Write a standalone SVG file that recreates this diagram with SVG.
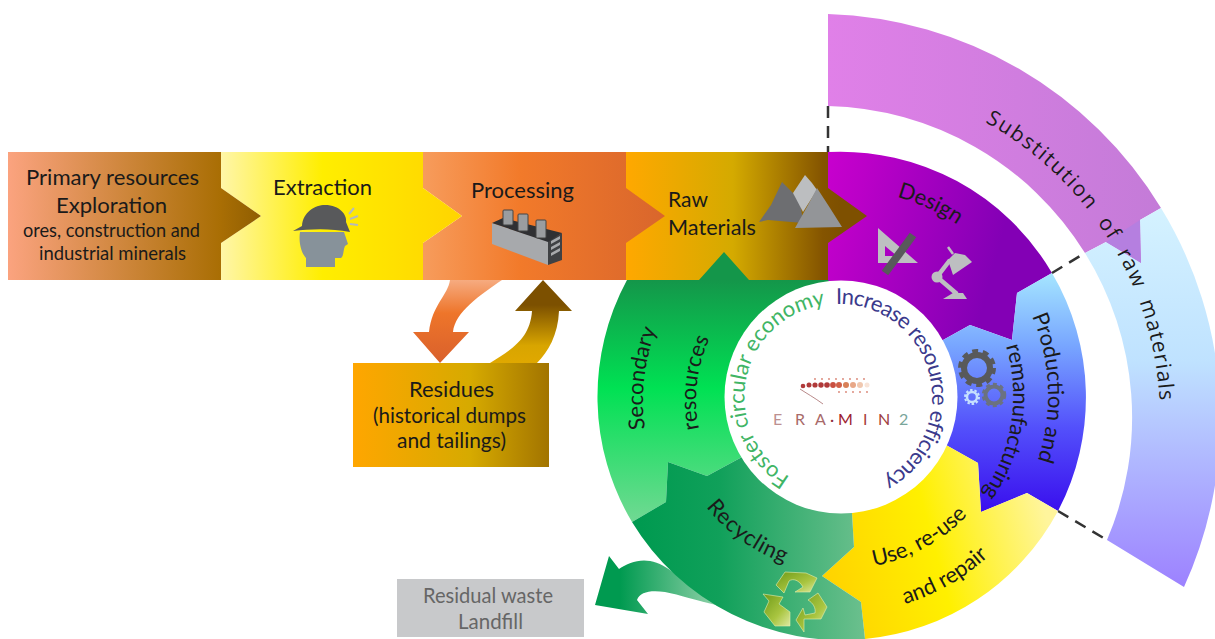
<svg xmlns="http://www.w3.org/2000/svg" width="1215" height="639" viewBox="0 0 1215 639">
<style>
text{font-family:Lato,"Noto Sans","Liberation Sans",sans-serif;fill:#1a1a1a}
.b{font-size:22px}.m{font-size:19px}.c{font-size:22px}
.s{font-family:"Open Sans","Noto Sans",sans-serif;font-size:21px}
.dash{fill:none;stroke:#333;stroke-width:2.500;stroke-dasharray:12 8}
.ic{fill:#bdbfc1}.dk{fill:#58595b}
.lg{font-size:16px}
</style>
<defs>
<linearGradient id="gP" gradientUnits="userSpaceOnUse" x1="8" y1="0" x2="261" y2="0"><stop offset="0" stop-color="#fba37f"/><stop offset=".84" stop-color="#a96e04"/><stop offset="1" stop-color="#8f5e02"/></linearGradient>
<linearGradient id="gE" gradientUnits="userSpaceOnUse" x1="221" y1="0" x2="462" y2="0"><stop offset="0" stop-color="#fff6a8"/><stop offset=".42" stop-color="#ffee00"/><stop offset="1" stop-color="#ffd400"/></linearGradient>
<linearGradient id="gR" gradientUnits="userSpaceOnUse" x1="423" y1="0" x2="665" y2="0"><stop offset="0" stop-color="#f79c5c"/><stop offset=".4" stop-color="#f27a2a"/><stop offset="1" stop-color="#d9662c"/></linearGradient>
<linearGradient id="gM" gradientUnits="userSpaceOnUse" x1="626" y1="0" x2="840" y2="0"><stop offset="0" stop-color="#ffa800"/><stop offset=".5" stop-color="#d4aa00"/><stop offset=".92" stop-color="#845400"/><stop offset="1" stop-color="#7e5000"/></linearGradient>
<linearGradient id="gD" gradientUnits="userSpaceOnUse" x1="828" y1="0" x2="1050" y2="60"><stop offset="0" stop-color="#d400d4"/><stop offset=".35" stop-color="#bb00c8"/><stop offset="1" stop-color="#8300b5"/></linearGradient>
<linearGradient id="gB" gradientUnits="userSpaceOnUse" x1="0" y1="275" x2="0" y2="510"><stop offset="0" stop-color="#a4e4ff"/><stop offset=".3" stop-color="#78a6ff"/><stop offset=".65" stop-color="#5350fb"/><stop offset="1" stop-color="#3a10ee"/></linearGradient>
<linearGradient id="gS" gradientUnits="userSpaceOnUse" x1="0" y1="280" x2="0" y2="520"><stop offset="0" stop-color="#14964a"/><stop offset=".45" stop-color="#00e153"/><stop offset="1" stop-color="#6fd992"/></linearGradient>
<linearGradient id="gC" gradientUnits="userSpaceOnUse" x1="640" y1="0" x2="865" y2="0"><stop offset="0" stop-color="#009a50"/><stop offset=".35" stop-color="#10a05a"/><stop offset="1" stop-color="#6cc08e"/></linearGradient>
<linearGradient id="gY" gradientUnits="userSpaceOnUse" x1="825" y1="590" x2="1050" y2="530"><stop offset="0" stop-color="#ffd200"/><stop offset=".5" stop-color="#fff000"/><stop offset="1" stop-color="#fff59c"/></linearGradient>
<linearGradient id="gA" gradientUnits="userSpaceOnUse" x1="620" y1="0" x2="710" y2="0"><stop offset="0" stop-color="#009a50"/><stop offset="1" stop-color="#85cda2"/></linearGradient>
<linearGradient id="gO" gradientUnits="userSpaceOnUse" x1="0" y1="280" x2="0" y2="363"><stop offset="0" stop-color="#f6ab80"/><stop offset=".4" stop-color="#ee752a"/><stop offset="1" stop-color="#d9602c"/></linearGradient>
<linearGradient id="gU" gradientUnits="userSpaceOnUse" x1="0" y1="305" x2="0" y2="363"><stop offset="0" stop-color="#7c5000"/><stop offset=".7" stop-color="#d8a500"/><stop offset="1" stop-color="#e0a800"/></linearGradient>
<linearGradient id="gQ" gradientUnits="userSpaceOnUse" x1="353" y1="0" x2="549" y2="0"><stop offset="0" stop-color="#ffa600"/><stop offset=".6" stop-color="#d6aa00"/><stop offset="1" stop-color="#a27400"/></linearGradient>
<linearGradient id="gV" gradientUnits="userSpaceOnUse" x1="828" y1="0" x2="1160" y2="0"><stop offset="0" stop-color="#e080e8"/><stop offset="1" stop-color="#c47bd8"/></linearGradient>
<linearGradient id="gW" gradientUnits="userSpaceOnUse" x1="0" y1="210" x2="0" y2="590"><stop offset="0" stop-color="#d4f2ff"/><stop offset=".4" stop-color="#bfe2ff"/><stop offset="1" stop-color="#9c80ff"/></linearGradient>
<linearGradient id="gT" x1="0" y1="0" x2="1" y2="1"><stop offset="0" stop-color="#6f9a18"/><stop offset=".6" stop-color="#a9c540"/><stop offset="1" stop-color="#dde9a0"/></linearGradient>
<path id="pInc" d="M836 304A93 93 0 1 1 842 490"/>
<path id="pFos" d="M790 477A93 93 0 0 1 836 304"/>
<path id="pDes" d="M897 197A207 207 0 0 1 1012 278"/>
<path id="pPro" d="M1032 316A206 206 0 0 1 1030 480"/>
<path id="pRem" d="M1006 346A172 172 0 0 1 960 520"/>
<path id="pUse" d="M874 566A172 172 0 0 0 998 470"/>
<path id="pRep" d="M905 604A216 216 0 0 0 1038 488"/>
<path id="pRec" d="M706 507A176 176 0 0 0 810 570"/>
<path id="pSec" d="M645 429A198 198 0 0 1 665 310"/>
<path id="pRes" d="M699 429A146 146 0 0 1 720 320"/>
<path id="pSub" d="M985 122A340 340 0 0 1 1160 430"/>
</defs>

<g id="node-substitution">
<path d="M828 14A405 405 0 0 1 1161 208L1140 220L1141 263L1106 242L1085 253A311 311 0 0 0 828 106Z" fill="url(#gV)"/>
<path d="M1161 208A405 405 0 0 1 1184 587L1107 540A311 311 0 0 0 1085 253L1106 242L1141 263L1140 220Z" fill="url(#gW)"/>
<path d="M1140 220L1141 263L1106 242Z" fill="#b57fe0"/>
<text class="s" letter-spacing="1.6"><textPath href="#pSub">Substitution</textPath></text>
<text class="s" letter-spacing="1.6"><textPath href="#pSub" startOffset="152">of</textPath></text>
<text class="s" letter-spacing="1.6"><textPath href="#pSub" startOffset="188">raw</textPath></text>
<text class="s" letter-spacing="1.2"><textPath href="#pSub" startOffset="242">materials</textPath></text>
</g>

<g id="node-design">
<path d="M828 152A245 245 0 0 1 1052 273L1017 293L1012 340L970 325L943 340L850 390L828 285Z" fill="url(#gD)"/>
<text class="c"><textPath href="#pDes">Design</textPath></text>
<path class="ic" fill-rule="evenodd" d="M878 228L918 263L878 263ZM885 246V256H897Z"/>
<path d="M913 235L885 273" stroke="#58595b" stroke-width="8" fill="none"/>
<path class="ic" d="M943 299L953 293H963L967 299Z"/>
<path d="M957 294L937 277L950 260" stroke="#bdbfc1" stroke-width="4.500" fill="none"/>
<circle class="ic" cx="937" cy="277" r="5.500"/>
<path class="ic" d="M948 260L955 253L965 255L972 262L953 275Z"/>
<path d="M948 247L953 254" stroke="#bdbfc1" stroke-width="2.500"/>
</g>

<g id="node-production">
<path d="M1052 273A245 245 0 0 1 1058 511L1027 493L981 512L978 463L946 445L850 400L943 340L970 325L1012 340L1017 293Z" fill="url(#gB)"/>
<text class="c"><textPath href="#pPro">Production and</textPath></text>
<text class="c" letter-spacing="-.3"><textPath href="#pRem">remanufacturing</textPath></text>
<circle cx="977" cy="368" r="13" fill="none" stroke="#58595b" stroke-width="6"/>
<circle cx="977" cy="368" r="17" fill="none" stroke="#58595b" stroke-width="4" stroke-dasharray="6 4.680"/>
<circle cx="972" cy="397" r="5" fill="none" stroke="#c6e0ff" stroke-width="2.500"/>
<circle cx="972" cy="397" r="7" fill="none" stroke="#c6e0ff" stroke-width="2" stroke-dasharray="2.500 1.900"/>
<circle cx="994" cy="395" r="8.500" fill="none" stroke="#6b7280" stroke-width="4"/>
<circle cx="994" cy="395" r="11" fill="none" stroke="#6b7280" stroke-width="2.500" stroke-dasharray="4 3.200"/>
</g>

<g id="connectors">
<path class="dash" d="M828 106V152"/>
<path class="dash" d="M1052 273L1085 253"/>
<path class="dash" d="M1058 511L1107 540"/>
<path d="M450 280C448 295 432 305 429 332L413 332L440 363L469 332L453 332C455 312 480 295 502 280Z" fill="url(#gO)"/>
<path d="M543 280L572 311L559 311C558 335 548 352 537 363L490 363C510 350 530 340 532 311L515 311Z" fill="url(#gU)"/>
<path d="M670 570C650 555 632 560 619 569L609 556L595 605L648 614L637 600C640 592 650 590 665 592C680 595 695 600 720 606Z" fill="url(#gA)"/>
</g>

<g id="node-raw">
<path d="M626 152H828V188L867 216L828 243V280H626Z" fill="url(#gM)"/>
<path d="M782 182L771 205L759 222L768 220L803 223L800 200Z" fill="#6d6e71"/>
<path d="M805 175L793 193L803 212L817 190L812 183Z" fill="#bcbec0"/>
<path d="M817 188L808 205L795 228L842 227L830 208Z" fill="#939598"/>
<text class="b" x="668" y="207" textLength="40" lengthAdjust="spacingAndGlyphs">Raw</text>
<text class="b" x="668" y="235" textLength="88" lengthAdjust="spacingAndGlyphs">Materials</text>
</g>

<g id="node-processing">
<path d="M423 152H626V188L665 216L626 243V280H423V243L462 216L423 188Z" fill="url(#gR)"/>
<path d="M492 223L548 241V265L492 244Z" fill="#a7a9ac"/>
<path d="M548 241L562 233V260L548 265Z" fill="#3f4144"/>
<path d="M551 241L560 236V239L551 244ZM551 247L560 242V245L551 250ZM551 253L560 248V251L551 256Z" fill="#a7a9ac"/>
<path d="M492 223L503 218L562 233L548 242Z" fill="#2f3033"/>
<g fill="#9a9da0" stroke="#444" stroke-width="1"><rect x="503" y="210" width="10" height="15" rx="1"/><rect x="518" y="214" width="10" height="17" rx="1"/><rect x="536" y="220" width="10" height="18" rx="1"/></g>
<text class="b" x="471" y="198" textLength="103" lengthAdjust="spacingAndGlyphs">Processing</text>
</g>

<g id="node-extraction">
<path d="M221 152H423V188L462 216L423 243V280H221V243L261 216L221 188Z" fill="url(#gE)"/>
<path d="M300 232C298 245 303 255 306 258L306 267H335V258H341C344 256 343 250 345 246L348 244L344 232Z" fill="#87929a"/>
<path class="dk" d="M293 231L302 226C303 212 315 205 325 205C340 205 347 215 346 222L350 232C330 228 310 229 293 231Z"/>
<path d="M349 214L354 208M350 219L358 216M350 224L358 225" stroke="#b5b9bc" stroke-width="2" fill="none"/>
<text class="b" x="273" y="195" textLength="99" lengthAdjust="spacingAndGlyphs">Extraction</text>
</g>

<g id="node-primary">
<path d="M8 152H221V188L261 216L221 243V280H8Z" fill="url(#gP)"/>
<text class="b" x="26" y="185" textLength="173" lengthAdjust="spacingAndGlyphs">Primary resources</text>
<text class="b" x="56" y="213" textLength="111" lengthAdjust="spacingAndGlyphs">Exploration</text>
<text class="m" x="23" y="237" textLength="177" lengthAdjust="spacingAndGlyphs">ores, construction and</text>
<text class="m" x="39" y="260" textLength="147" lengthAdjust="spacingAndGlyphs">industrial minerals</text>
</g>

<g id="node-residues">
<rect x="353" y="363" width="196" height="104" fill="url(#gQ)"/>
<text class="b" x="409" y="397" textLength="85" lengthAdjust="spacingAndGlyphs">Residues</text>
<text class="b" x="373" y="423" textLength="153" lengthAdjust="spacingAndGlyphs">(historical dumps</text>
<text class="b" x="397" y="448" textLength="109" lengthAdjust="spacingAndGlyphs">and tailings)</text>
</g>

<g id="node-secondary">
<path d="M627 280H699L724 252L749 280H828L838 290L742 457L707 476L668 462L666 502L632 522A245 245 0 0 1 627 280Z" fill="url(#gS)"/>
<text class="c"><textPath href="#pSec">Secondary</textPath></text>
<text class="c"><textPath href="#pRes">resources</textPath></text>
</g>

<g id="node-yellow">
<path d="M946 445L978 463L981 512L1027 493L1058 511A245 245 0 0 1 865 639L861 602L822 576L854 547L852 513L850 400Z" fill="url(#gY)"/>
<text class="c"><textPath href="#pUse">Use, re-use</textPath></text>
<text class="c"><textPath href="#pRep">and repair</textPath></text>
</g>

<g id="node-recycling">
<path d="M668 462L707 476L742 457L840 400L852 513L854 547L822 576L861 602L865 639A245 245 0 0 1 632 522L666 502Z" fill="url(#gC)"/>
<text class="c" letter-spacing=".8"><textPath href="#pRec">Recycling</textPath></text>
<g fill="url(#gT)" stroke="#e4eeb0" stroke-width=".6">
<path d="M776 585L785 572L806 573L817 578L810 592L795 592L803 587C799 580 793 578 789 581L784 593Z"/>
<path d="M763 594L783 597L779 604L790 612V626H775L764 612L769 601Z"/>
<path d="M808 600L818 593L827 607L821 619L804 619L804 632L796 620L803 608L805 615L815 613C816 608 813 603 808 600Z"/>
</g>
</g>

<g id="node-landfill">
<rect x="397" y="579" width="187" height="58" fill="#c8c9cb"/>
<text class="b" x="423" y="603" textLength="130" lengthAdjust="spacingAndGlyphs" style="fill:#666">Residual waste</text>
<text class="b" x="458" y="629" textLength="65" lengthAdjust="spacingAndGlyphs" style="fill:#666">Landfill</text>
</g>

<g id="node-centre">
<circle cx="841" cy="397" r="116.500" fill="#fff"/>
<text font-size="22" letter-spacing="-.7" style="fill:#3b3a8c"><textPath href="#pInc">Increase resource efficiency</textPath></text>
<text font-size="22" style="fill:#3fb565"><textPath href="#pFos">Foster circular economy</textPath></text>
<path d="M800 389C806 393 815 398 823 404" fill="none" stroke="#b98a8a" stroke-width="1"/>
<g fill="#b03a3a">
<circle cx="803" cy="386" r="2.300"/><circle cx="809" cy="385" r="2.500"/><circle cx="815" cy="385" r="2.600"/><circle cx="821" cy="385" r="2.700"/><circle cx="827" cy="385" r="2.800"/>
<circle cx="833" cy="385" r="2.900" fill="#c85040"/><circle cx="839" cy="385" r="3" fill="#d06048"/><circle cx="846" cy="385" r="3" fill="#d88058"/><circle cx="853" cy="385" r="3" fill="#e8a888"/><circle cx="860" cy="385" r="3" fill="#f0c8b0"/><circle cx="867" cy="385" r="2.500" fill="#f8e4d8"/>
</g>
<g fill="#d88070"><circle cx="815" cy="379" r=".9"/><circle cx="822" cy="379" r=".9"/><circle cx="829" cy="379" r=".9"/><circle cx="836" cy="379" r=".9"/><circle cx="843" cy="379" r=".9"/><circle cx="850" cy="379" r=".9"/><circle cx="857" cy="379" r=".9"/><circle cx="864" cy="379" r=".9"/>
<circle cx="839" cy="392" r=".9"/><circle cx="846" cy="392" r=".9"/><circle cx="853" cy="392" r=".9"/><circle cx="860" cy="392" r=".9"/><circle cx="867" cy="392" r=".9"/></g>
<text class="lg" y="425"><tspan x="773" style="fill:#bd9090">E</tspan><tspan x="795" style="fill:#a86a6a">R</tspan><tspan x="815" style="fill:#a86a6a">A</tspan><tspan x="830" style="fill:#903040">·</tspan><tspan x="838" style="fill:#9c2030">M</tspan><tspan x="863" style="fill:#a84040">I</tspan><tspan x="878" style="fill:#a04040">N</tspan><tspan x="899" style="fill:#7aa59a">2</tspan></text>
</g>
</svg>
